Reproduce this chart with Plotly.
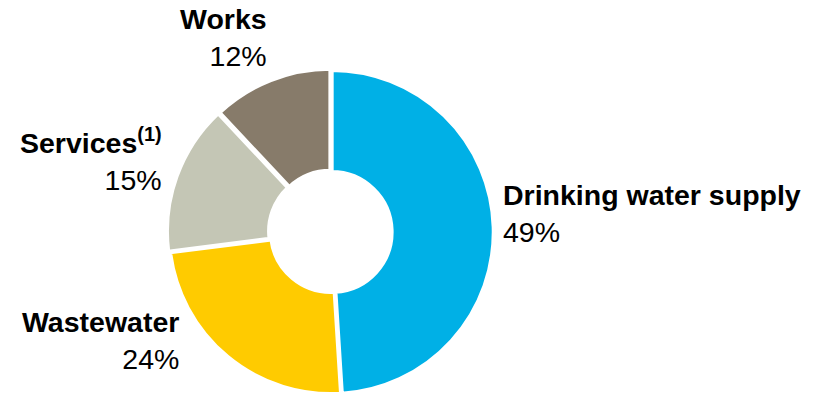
import plotly.graph_objects as go

W, H = 821, 396

categories = ["Drinking water supply", "Wastewater", "Services", "Works"]
label_html = ["<b>Drinking water supply</b>", "<b>Wastewater</b>", "<b>Services<sup>(1)</sup></b>", "<b>Works</b>"]
values = [49, 24, 15, 12]
colors = ["#00B0E6", "#FFCB00", "#C4C6B5", "#877B6A"]
pulls = [0.005, 0.0, 0.012, 0.008]

# label anchor positions in pixels (x, y-center of two-line block), anchor side
label_pos = [(501, 213, "left"), (181, 340, "right"), (164, 160, "right"), (269, 38, "right")]

center_y = 1 - 232 / H

fig = go.Figure()
fig.add_trace(go.Pie(
    labels=categories,
    values=values,
    marker=dict(colors=colors, line=dict(color="white", width=4)),
    hole=0.37,
    sort=False,
    direction="clockwise",
    rotation=0,
    pull=pulls,
    textinfo="none",
    hoverinfo="label+percent",
    domain=dict(x=[0.2, 0.606], y=[0.0, 2 * center_y]),
))

for lab, v, (px, py, side) in zip(label_html, values, label_pos):
    fig.add_annotation(
        x=px / W, y=1 - py / H, xref="paper", yref="paper",
        text=f"{lab}<br>{v}%",
        showarrow=False,
        xanchor=side, yanchor="middle", align=side,
        font=dict(family="Liberation Sans, Arial, sans-serif", size=28.5, color="black"),
    )

fig.update_layout(
    width=W, height=H,
    margin=dict(l=0, r=0, t=0, b=0),
    showlegend=False,
    paper_bgcolor="white",
    plot_bgcolor="white",
)

fig.write_html("out.html")
